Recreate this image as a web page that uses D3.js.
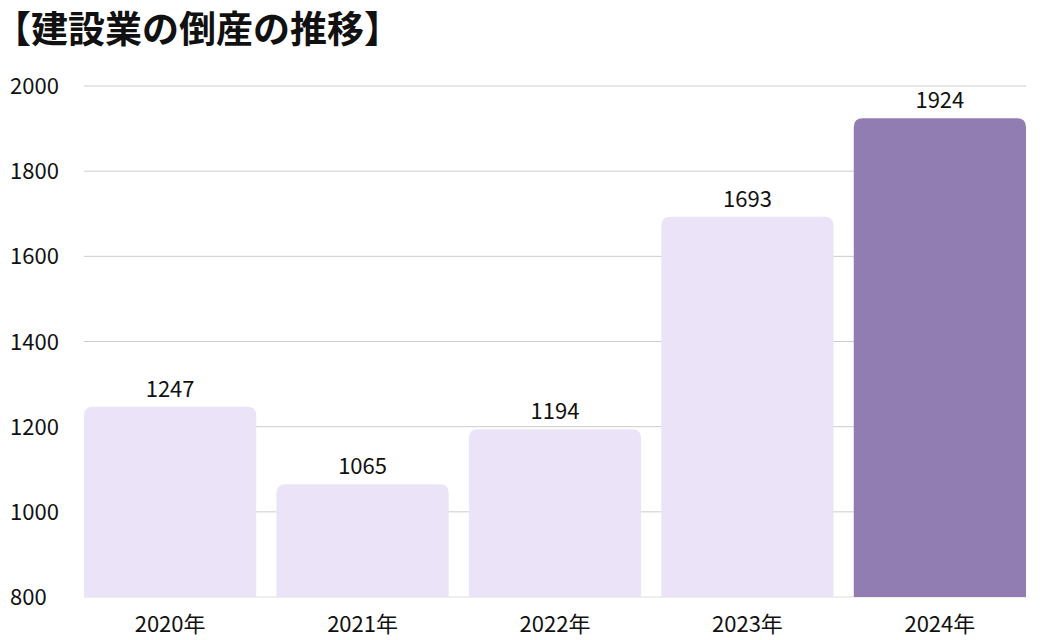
<!DOCTYPE html>
<html><head><meta charset="utf-8">
<script src="https://cdn.jsdelivr.net/npm/d3@7"></script>
<style>body{margin:0;background:#fff}</style></head>
<body><svg id="c" width="1042" height="640"></svg>
<script>
const categories = ["2020年","2021年","2022年","2023年","2024年"];
const values = [1247,1065,1194,1693,1924];
const yTicks = [800,1000,1200,1400,1600,1800,2000];
const title = "【建設業の倒産の推移】";

const svg = d3.select("#c");
const font = "'Noto Sans CJK JP','Noto Sans',sans-serif";
const m = {l:84, r:1026, t:86, b:597};
const x = d3.scaleBand().domain(categories).range([m.l, m.r]).paddingInner(0.105).paddingOuter(0);
const y = d3.scaleLinear().domain([800,2000]).range([m.b, m.t]);

svg.append("text").attr("x",-6).attr("y",43).text(title)
  .attr("font-family",font).attr("font-weight",700).attr("font-size",37).attr("fill","#111");

svg.selectAll(".g").data(yTicks).join("line")
  .attr("x1",m.l).attr("x2",m.r).attr("y1",d=>y(d)).attr("y2",d=>y(d))
  .attr("stroke",d=>d===800?"#ddd":"#ccc").attr("stroke-width",1);
svg.selectAll(".yt").data(yTicks).join("text")
  .attr("x",10).attr("y",d=>y(d)+8).text(d=>d)
  .attr("font-family",font).attr("font-size",22).attr("fill","#111");

const r = 9;
svg.selectAll(".bar").data(values).join("path")
  .attr("d",(d,i)=>{
    const x0 = x(categories[i]), w = x.bandwidth(), y0 = y(d), y1 = y(800);
    return `M${x0},${y1}V${y0+r}Q${x0},${y0} ${x0+r},${y0}H${x0+w-r}Q${x0+w},${y0} ${x0+w},${y0+r}V${y1}Z`;
  })
  .attr("fill",(d,i)=>i===values.length-1?"#917db1":"#ebe3f7");

svg.selectAll(".vl").data(values).join("text")
  .attr("x",(d,i)=>x(categories[i])+x.bandwidth()/2).attr("y",d=>y(d)-10)
  .attr("text-anchor","middle").text(d=>d)
  .attr("font-family",font).attr("font-size",22).attr("fill","#111");

svg.selectAll(".xl").data(categories).join("text")
  .attr("x",d=>x(d)+x.bandwidth()/2).attr("y",632)
  .attr("text-anchor","middle").text(d=>d)
  .attr("font-family",font).attr("font-size",22).attr("fill","#111");
</script></body></html>
